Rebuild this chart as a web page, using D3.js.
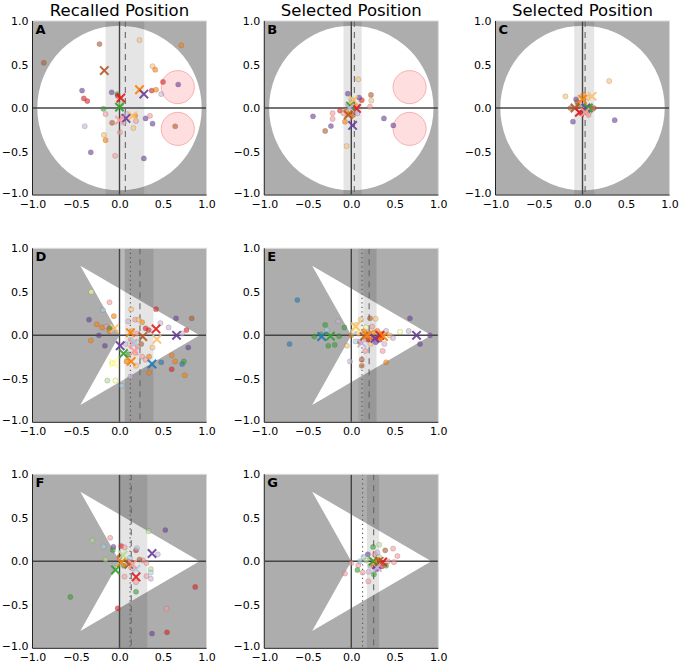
<!DOCTYPE html>
<html>
<head>
<meta charset="utf-8">
<script src="https://cdn.jsdelivr.net/npm/d3@7"></script>
<style>
body { margin: 0; background: #fff; }
svg text { font-family: "DejaVu Sans", sans-serif; }
</style>
</head>
<body>
<svg id="chart" width="680" height="666"></svg>
<script>
// couleurs (Paired)
const palette = ["#a6cee3", "#1f78b4", "#b2df8a", "#33a02c", "#fb9a99", "#e31a1c",
                 "#fdbf6f", "#ff7f00", "#cab2d6", "#6a3d9a", "#ffff99", "#b15928"];

const ticks = [-1, -0.5, 0, 0.5, 1];
const colTitles = ["Recalled Position", "Selected Position", "Selected Position"];

const panelIds = ["A", "B", "C", "D", "E", "F", "G"];
const panelCol = [0, 1, 2, 0, 1, 0, 1];
const panelRow = [0, 0, 0, 1, 1, 2, 2];
const panelShape = ["circle", "circle", "circle", "arrow", "arrow", "arrow", "arrow"];

// forme
const circleR = 0.945;
const arrowX = [-0.45, 0.92, -0.45, 0.0];
const arrowY = [0.8, 0.0, -0.8, 0.0];
const targetX = [0.67, 0.67];
const targetY = [0.24, -0.24];
const targetR = 0.19;
const targetPanels = ["A", "B"];

// bandes et lignes verticales
const bandsA = [[-0.16, 0.285]];
const bandsB = [[-0.09, 0.12]];
const bandsC = [[-0.095, 0.135]];
const bandsD = [[0.06, 0.39]];
const bandsE = [[0.08, 0.29], [0.14, 0.29]];
const bandsF = [[0.0, 0.32]];
const bandsG = [[0.18, 0.32]];
const dashedX = [0.067, 0.035, 0.03, 0.235, 0.205, 0.135, 0.257];
const dottedX = [null, null, null, 0.125, 0.123, 0.122, 0.13];

// points [x, y, couleur]
const ptsA = [[-0.87,0.52,11],[-0.23,0.735,11],[0.23,0.78,6],[0.71,0.72,7],[0.38,0.48,6],[0.41,0.44,7],
  [0.50,0.30,5],[0.675,0.27,9],[0.37,0.20,5],[0.42,0.21,7],[0.48,0.16,8],[-0.43,0.20,9],[-0.41,0.11,5],
  [-0.37,0.08,5],[-0.09,0.18,9],[-0.025,0.16,3],[-0.185,-0.01,3],[-0.16,-0.07,4],[-0.085,-0.17,11],
  [0.18,-0.09,7],[0.30,-0.12,9],[0.35,-0.09,4],[0.38,-0.18,9],[0.19,-0.15,4],[0.16,-0.23,6],[0.005,-0.28,4],
  [-0.18,-0.31,6],[-0.16,-0.37,7],[-0.40,-0.21,8],[-0.33,-0.51,9],[-0.05,-0.55,4],[0.28,-0.58,9],
  [0.64,-0.21,11],[0.04,-0.10,4],[0.08,-0.07,8],[0.05,-0.17,8],[0.02,0.05,2],[-0.02,0.14,5]];
const meanA = [[-0.175,0.43,11],[0.015,0.115,5],[0.0,0.01,3],[0.23,0.21,7],[0.28,0.16,9],
  [0.15,-0.09,6],[0.075,-0.12,9],[0.0,-0.14,4]];

const ptsB = [[0.08,0.33,6],[-0.04,0.165,9],[0.12,0.09,5],[0.09,0.12,9],[0.226,0.15,11],[0.23,0.085,6],
  [0.215,0.015,4],[-0.44,-0.096,9],[-0.215,-0.06,4],[-0.215,-0.126,4],[-0.234,-0.207,9],[-0.30,-0.264,11],
  [-0.13,-0.03,5],[-0.073,-0.157,7],[-0.054,-0.437,6],[0.375,-0.12,9],[0.483,-0.20,9],[-0.03,0.02,3],
  [0.0,0.06,6],[0.04,-0.04,8],[0.06,0.02,4],[-0.06,-0.03,7],[0.02,-0.08,11],[-0.09,-0.06,4],
  [0.07,-0.06,8],[0.0,0.1,2],[0.03,0.04,7]];
const meanB = [[0.023,0.09,6],[-0.023,-0.06,7],[0.06,-0.005,5],[0.015,-0.2,9],[-0.01,0.02,3],
  [-0.02,0.0,8],[-0.035,-0.08,11]];

const ptsC = [[-0.196,0.134,6],[0.307,0.31,6],[0.37,-0.14,9],[-0.11,-0.157,9],[-0.074,0.10,9],
  [-0.06,0.07,11],[-0.14,0.0,11],[0.01,0.15,7],[0.06,0.12,6],[0.1,0.0,3],[0.12,-0.01,4],[0.05,-0.05,4],
  [0.08,-0.04,2],[-0.02,-0.06,5],[0.02,0.03,8],[0.13,0.0,11],[-0.05,0.03,11],[0.07,-0.08,4]];
const meanC = [[0.0,0.10,7],[0.11,0.134,6],[-0.086,0.0,11],[-0.036,-0.05,5],[0.04,0.0,9],
  [0.067,0.0,3],[0.03,-0.05,4]];

const ptsD = [[-0.324,0.50,10],[-0.115,0.38,4],[-0.19,0.29,0],[-0.065,0.22,7],[-0.35,0.18,9],
  [-0.26,0.126,7],[-0.2,0.09,7],[-0.15,0.10,4],[-0.115,0.08,3],[-0.115,0.05,7],[-0.237,0.0,9],
  [-0.33,-0.06,7],[-0.168,-0.12,9],[0.134,0.30,6],[0.10,0.16,8],[0.18,0.18,4],[0.26,0.15,7],[0.22,0.18,6],
  [0.42,0.30,5],[0.47,0.14,8],[0.565,0.09,8],[0.65,0.195,9],[0.83,0.195,11],[0.77,0.06,5],[0.72,0.02,8],
  [0.79,-0.14,9],[0.60,-0.23,7],[0.64,-0.30,7],[0.72,-0.33,1],[0.74,-0.30,3],[0.60,-0.39,5],[0.75,-0.46,7],
  [0.48,-0.31,1],[0.34,-0.43,7],[0.26,-0.245,4],[0.34,-0.245,7],[0.38,-0.14,6],[0.21,-0.13,4],
  [0.07,-0.1,8],[0.08,-0.30,7],[-0.084,-0.32,10],[-0.14,-0.52,2],[-0.046,-0.52,10],[0.03,-0.58,0],
  [0.126,-0.475,8],[0.336,0.06,5],[0.14,0.05,6],[0.2,0.02,4],[0.3,0.08,5],[0.13,-0.05,0],[0.18,-0.2,4],
  [0.25,-0.1,11],[0.3,-0.28,4],[0.1,-0.22,3],[0.19,-0.35,6]];
const meanD = [[-0.057,0.08,6],[0.126,0.03,7],[0.267,-0.015,11],[0.42,0.073,5],[0.43,-0.046,6],
  [0.656,0.0,9],[0.008,-0.12,9],[0.153,-0.09,4],[0.18,-0.09,0],[0.17,-0.18,4],[0.046,-0.21,3],
  [0.134,-0.30,7],[0.374,-0.33,1],[-0.065,-0.32,10]];

const ptsE = [[-0.62,0.406,1],[-0.71,-0.10,1],[-0.30,0.12,3],[-0.425,-0.015,3],[-0.35,0.01,3],
  [-0.28,0.06,0],[-0.264,-0.12,3],[-0.19,-0.11,3],[-0.14,-0.01,3],[-0.08,0.09,3],[-0.15,0.16,8],
  [0.0,0.0,7],[-0.05,-0.12,6],[-0.015,-0.30,8],[0.06,0.12,6],[0.11,0.18,6],[0.12,-0.28,11],[0.12,-0.35,11],
  [0.215,0.195,11],[0.28,0.19,6],[0.674,0.195,9],[0.904,0.0,9],[0.79,-0.10,9],[0.56,0.04,10],[0.66,0.05,8],
  [0.48,-0.03,8],[0.4,-0.31,7],[0.36,-0.18,4],[0.16,-0.18,4],[0.05,-0.07,0],[0.02,0.03,0],[0.15,0.05,7],
  [0.2,0.02,7],[0.25,-0.03,5],[0.3,0.05,7],[0.33,-0.05,5],[0.28,-0.08,9],[0.22,-0.1,6],[0.35,0.02,7],
  [0.4,0.05,8],[0.1,-0.08,11],[0.17,0.09,10],[0.24,0.1,4],[0.38,-0.1,8],[0.44,0.0,6],[0.08,0.02,6],
  [0.26,0.03,7],[0.19,-0.05,5],[0.31,-0.02,7]];
const meanE = [[-0.34,-0.015,1],[-0.24,-0.01,3],[0.054,0.08,10],[0.146,-0.015,11],[0.18,0.0,7],
  [0.33,0.0,5],[0.272,-0.035,9],[0.37,-0.015,7],[0.75,0.0,9],[0.12,-0.09,8],[0.05,0.1,6]];

const ptsF = [[-0.565,-0.41,3],[-0.313,0.24,2],[-0.183,0.17,0],[-0.107,0.27,4],[-0.07,0.165,9],
  [-0.076,0.13,3],[-0.16,0.02,2],[0.02,0.176,5],[0.06,0.16,4],[0.19,0.126,5],[0.2,0.15,0],[0.336,0.345,2],
  [0.527,0.36,9],[0.44,0.08,8],[0.27,0.01,4],[0.31,-0.02,4],[0.36,-0.09,2],[0.36,-0.13,0],[0.36,-0.2,8],
  [0.31,-0.17,4],[0.19,-0.24,4],[0.19,-0.35,3],[0.057,-0.176,4],[-0.02,-0.54,5],[0.54,-0.544,4],
  [0.87,-0.295,5],[0.374,-0.83,9],[0.546,-0.816,5],[0.0,0.05,5],[0.1,0.0,11],[0.23,0.02,11],
  [0.15,-0.08,4],[0.05,-0.05,3],[0.12,0.04,0]];
const meanF = [[0.04,0.07,2],[0.374,0.09,9],[0.02,-0.015,7],[0.107,-0.035,11],[0.19,-0.09,0],
  [0.15,-0.035,4],[0.19,-0.18,5],[-0.046,-0.1,3]];

const ptsG = [[-0.073,-0.14,4],[0.0,-0.02,4],[0.08,-0.046,4],[0.195,-0.23,4],[0.25,0.165,3],[0.32,0.19,2],
  [0.39,0.126,11],[0.48,0.146,4],[0.53,0.06,4],[0.49,-0.01,4],[0.42,0.0,4],[0.19,0.08,9],[0.14,0.05,0],
  [0.07,-0.1,3],[0.13,-0.13,4],[0.26,-0.15,3],[0.29,-0.09,9],[0.22,-0.05,8],[0.32,0.05,2],[0.35,-0.06,5],
  [0.17,0.01,2],[0.27,0.08,4],[0.4,-0.05,3],[0.2,-0.12,8],[0.1,0.0,0],[0.3,0.1,8]];
const meanG = [[0.29,-0.04,9],[0.36,-0.008,5],[0.27,-0.015,7],[0.3,-0.07,8],[0.25,0.0,3],[0.32,0.0,11]];

const allPts = [ptsA, ptsB, ptsC, ptsD, ptsE, ptsF, ptsG];
const allMeans = [meanA, meanB, meanC, meanD, meanE, meanF, meanG];
const allBands = [bandsA, bandsB, bandsC, bandsD, bandsE, bandsF, bandsG];

// mise en page
const size = 174;
const colX = [32.5, 264.3, 495.5];
const rowY = [21, 248.3, 474.3];

const svg = d3.select("#chart");

const x = d3.scaleLinear().domain([-1, 1]).range([0, size]);
const y = d3.scaleLinear().domain([-1, 1]).range([size, 0]);

// titres
svg.selectAll(".title")
    .data(colTitles)
    .enter()
    .append("text")
    .attr("x", (d, i) => colX[i] + size / 2)
    .attr("y", 15.5)
    .attr("text-anchor", "middle")
    .style("font-size", "16.5px")
    .text(d => d);

panelIds.forEach((id, i) => {
    const g = svg.append("g")
        .attr("transform", "translate(" + colX[panelCol[i]] + "," + rowY[panelRow[i]] + ")");

    g.append("clipPath").attr("id", "clip" + id)
        .append("rect").attr("width", size).attr("height", size);
    const inner = g.append("g").attr("clip-path", "url(#clip" + id + ")");

    // fond gris
    inner.append("rect")
        .attr("width", size).attr("height", size)
        .style("fill", "#adadad");

    // forme blanche
    if (panelShape[i] === "circle") {
        inner.append("ellipse")
            .attr("cx", x(0)).attr("cy", y(0))
            .attr("rx", x(circleR) - x(0)).attr("ry", y(0) - y(circleR))
            .style("fill", "#fff");
    } else {
        const pts = arrowX.map((v, k) => [x(v), y(arrowY[k])]);
        inner.append("path")
            .attr("d", d3.line()(pts) + "Z")
            .style("fill", "#fff");
    }

    // bandes
    if (id === "D") {
        inner.append("rect")
            .attr("x", x(0)).attr("y", 0)
            .attr("width", x(0.06) - x(0)).attr("height", size)
            .style("fill", "#fff").style("opacity", 0.15);
    }
    inner.selectAll(".band")
        .data(allBands[i])
        .enter()
        .append("rect")
        .attr("x", d => x(d[0]))
        .attr("y", 0)
        .attr("width", d => x(d[1]) - x(d[0]))
        .attr("height", size)
        .style("fill", "#000")
        .style("opacity", allBands[i].length > 1 ? 0.06 : 0.1);

    // cibles
    if (targetPanels.includes(id)) {
        inner.selectAll(".target")
            .data(targetX)
            .enter()
            .append("ellipse")
            .attr("cx", d => x(d))
            .attr("cy", (d, k) => y(targetY[k]))
            .attr("rx", x(targetR) - x(0))
            .attr("ry", y(0) - y(targetR))
            .style("fill", "#fdd0d0")
            .style("fill-opacity", 0.7)
            .style("stroke", "#f9b0b0")
            .style("stroke-width", 1);
    }

    // axes à zéro
    inner.append("line")
        .attr("x1", x(0)).attr("x2", x(0)).attr("y1", 0).attr("y2", size)
        .style("stroke", "#444").style("stroke-width", 1.4);
    inner.append("line")
        .attr("x1", 0).attr("x2", size).attr("y1", y(0)).attr("y2", y(0))
        .style("stroke", "#444").style("stroke-width", 1.4);

    // lignes pointillées
    if (dottedX[i] !== null) {
        inner.append("line")
            .attr("x1", x(dottedX[i])).attr("x2", x(dottedX[i])).attr("y1", 0).attr("y2", size)
            .style("stroke", "#555").style("stroke-width", 1.1)
            .style("stroke-dasharray", "1.2,3.3");
    }
    inner.append("line")
        .attr("x1", x(dashedX[i])).attr("x2", x(dashedX[i])).attr("y1", 0).attr("y2", size)
        .style("stroke", "#666").style("stroke-width", 1.1)
        .style("stroke-dasharray", "6,5");

    // points
    inner.selectAll(".pt")
        .data(allPts[i])
        .enter()
        .append("circle")
        .attr("cx", d => x(d[0]))
        .attr("cy", d => y(d[1]))
        .attr("r", 2.6)
        .style("fill", d => palette[d[2]])
        .style("fill-opacity", 0.6)
        .style("stroke", "#555")
        .style("stroke-opacity", 0.35)
        .style("stroke-width", 0.6);

    // croix (moyennes)
    const m = 4.2;
    inner.selectAll(".mean")
        .data(allMeans[i])
        .enter()
        .append("path")
        .attr("d", d => {
            const cx = x(d[0]), cy = y(d[1]);
            return "M" + (cx - m) + "," + (cy - m) + "L" + (cx + m) + "," + (cy + m) +
                   "M" + (cx - m) + "," + (cy + m) + "L" + (cx + m) + "," + (cy - m);
        })
        .style("stroke", d => palette[d[2]])
        .style("stroke-width", 2)
        .style("opacity", 0.9);

    // cadre
    g.append("rect")
        .attr("width", size).attr("height", size)
        .style("fill", "none").style("stroke", "#d8d8d8").style("stroke-width", 1);
    g.append("line")
        .attr("x1", 0).attr("x2", 0).attr("y1", 0).attr("y2", size)
        .style("stroke", "#222").style("stroke-width", 1);
    g.append("line")
        .attr("x1", 0).attr("x2", size).attr("y1", size).attr("y2", size)
        .style("stroke", "#222").style("stroke-width", 1);

    // Axes
    const fmt = d3.format(".1f");
    const ax = g.append("g")
        .attr("transform", "translate(0," + size + ")")
        .call(d3.axisBottom(x).tickValues(ticks).tickFormat(fmt).tickSize(0).tickPadding(5));
    const ay = g.append("g")
        .call(d3.axisLeft(y).tickValues(ticks).tickFormat(fmt).tickSize(0).tickPadding(4));
    [ax, ay].forEach(a => {
        a.select(".domain").remove();
        a.selectAll("text").style("font-size", "11px").style("font-family", "'DejaVu Sans', sans-serif").attr("fill", "#000");
    });
    // décale légèrement le −1.0 de l'axe y pour ne pas chevaucher celui de l'axe x
    ay.selectAll(".tick").filter(d => d === -1).select("text").attr("dy", "0.1em");

    // lettre du panneau
    g.append("text")
        .attr("x", 3)
        .attr("y", 12.5)
        .style("font-size", "13px")
        .style("font-weight", "bold")
        .text(id);
});
</script>
</body>
</html>
